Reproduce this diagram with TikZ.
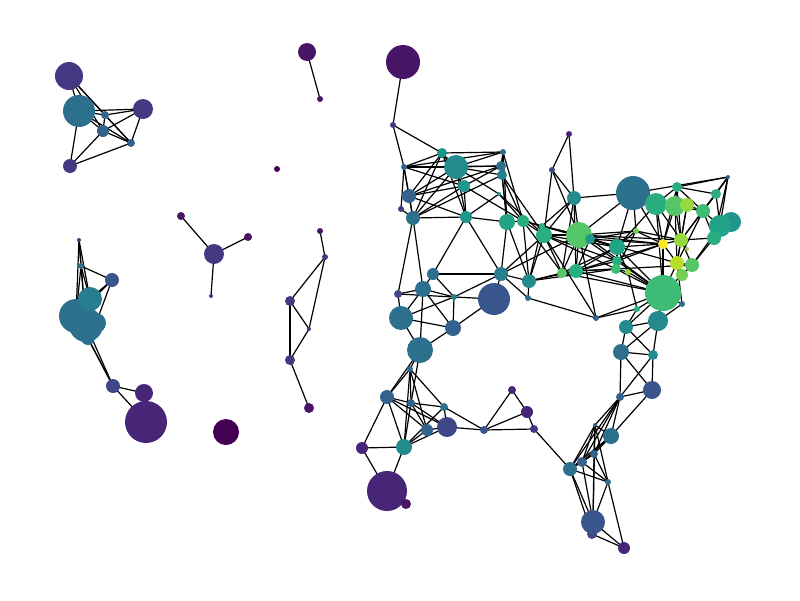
\documentclass[tikz,border=0pt]{standalone}
\usetikzlibrary{backgrounds}
\definecolor{va}{HTML}{440154}
\definecolor{vb}{HTML}{481567}
\definecolor{vc}{HTML}{482677}
\definecolor{vd}{HTML}{453781}
\definecolor{ve}{HTML}{3F4788}
\definecolor{vf}{HTML}{39568C}
\definecolor{vg}{HTML}{33638D}
\definecolor{vh}{HTML}{2D708E}
\definecolor{vi}{HTML}{287D8E}
\definecolor{vj}{HTML}{238A8D}
\definecolor{vk}{HTML}{1F968B}
\definecolor{vl}{HTML}{20A386}
\definecolor{vm}{HTML}{29AF7F}
\definecolor{vn}{HTML}{3CBC75}
\definecolor{vo}{HTML}{55C667}
\definecolor{vp}{HTML}{73D055}
\definecolor{vq}{HTML}{95D840}
\definecolor{vr}{HTML}{B8DE29}
\definecolor{vs}{HTML}{DCE319}
\definecolor{vt}{HTML}{FDE725}
\tikzset{
  nd/.style 2 args={circle, inner sep=0pt, outer sep=0pt, minimum size=2*#1 pt, fill=#2, draw=none},
  edge/.style={line width=1.2pt, black}
}
\newcommand{\E}[2]{\draw[edge] (#1.center) -- (#2.center);}
\begin{document}
\begin{tikzpicture}[x=1pt,y=-1pt]
\useasboundingbox (0,0) rectangle (800,600);
% component A
\node[nd={14}{vd}] (a1) at (69,76) {};
\node[nd={16}{vh}] (a2) at (79,111) {};
\node[nd={10}{vd}] (a3) at (143,109) {};
\node[nd={4}{vg}] (a4) at (105,115) {};
\node[nd={6}{vg}] (a5) at (103,131) {};
\node[nd={4}{vg}] (a6) at (131,143) {};
\node[nd={7}{vd}] (a7) at (70,166) {};
% component B
\node[nd={2}{vd}] (b1) at (79,240) {};
\node[nd={3}{vh}] (b2) at (81,266) {};
\node[nd={7}{vf}] (b3) at (112,280) {};
\node[nd={17}{vh}] (b5) at (76,316) {};
\node[nd={17}{vh}] (b6) at (86,325) {};
\node[nd={10}{vh}] (b7) at (96,323) {};
\node[nd={7}{vh}] (b8) at (88,338) {};
\node[nd={12}{vi}] (b4) at (90,299) {};
\node[nd={7}{ve}] (b9) at (113,386) {};
\node[nd={9}{vc}] (b10) at (144,393) {};
\node[nd={21}{vc}] (b11) at (146,422) {};
% component C
\node[nd={10}{vd}] (c1) at (214,254) {};
\node[nd={4}{vb}] (c2) at (181,216) {};
\node[nd={4}{vb}] (c3) at (248,237) {};
\node[nd={2}{vd}] (c4) at (211,296) {};
% D
\node[nd={9}{vb}] (d1) at (307,52) {};
\node[nd={3}{vb}] (d2) at (320,99) {};
\node[nd={3}{va}] (iso1) at (277,169) {};
\node[nd={13}{va}] (iso2) at (226,432) {};
% E
\node[nd={3}{vb}] (e1) at (320,231) {};
\node[nd={3}{vd}] (e2) at (325,257) {};
\node[nd={5}{vd}] (e3) at (290,301) {};
\node[nd={2}{vd}] (e4) at (309,329) {};
\node[nd={5}{vd}] (e5) at (290,360) {};
\node[nd={5}{vb}] (e6) at (309,408) {};
% main component
\node[nd={17}{vb}] (t1) at (403,62) {};
\node[nd={3}{vd}] (m1) at (393,125) {};
\node[nd={5}{vk}] (m2) at (442,153) {};
\node[nd={12}{vj}] (m3) at (456,167) {};
\node[nd={3}{vh}] (m4) at (503,152) {};
\node[nd={5}{vh}] (m5) at (501,166) {};
\node[nd={5}{vi}] (m6) at (502,175) {};
\node[nd={3}{vg}] (m7) at (404,167) {};
\node[nd={6}{vk}] (m8) at (464,186) {};
\node[nd={7}{vg}] (m9) at (409,196) {};
\node[nd={3}{vd}] (m10) at (401,209) {};
\node[nd={7}{vh}] (m11) at (413,218) {};
\node[nd={6}{vk}] (m12) at (466,217) {};
\node[nd={2}{vk}] (m13) at (499,194) {};
\node[nd={8}{vl}] (m14) at (507,222) {};
\node[nd={6}{vm}] (m15) at (523,221) {};
\node[nd={3}{vc}] (m16) at (569,134) {};
\node[nd={3}{ve}] (m17) at (552,170) {};
\node[nd={7}{vj}] (m18) at (574,198) {};
\node[nd={17}{vh}] (m19) at (633,193) {};
\node[nd={8}{vm}] (m20) at (544,235) {};
\node[nd={3}{vm}] (m21) at (542,226) {};
\node[nd={13}{vo}] (m22) at (579,235) {};
\node[nd={5}{vk}] (m23) at (590,239) {};
\node[nd={7}{vi}] (m24) at (501,274) {};
\node[nd={7}{vj}] (m25) at (529,281) {};
\node[nd={3}{vh}] (m26) at (528,298) {};
\node[nd={5}{vo}] (m27) at (562,273) {};
\node[nd={7}{vm}] (m28) at (576,271) {};
\node[nd={16}{vf}] (m29) at (494,299) {};
\node[nd={11}{vm}] (m31) at (656,204) {};
\node[nd={5}{vm}] (m32) at (677,187) {};
\node[nd={2}{vg}] (m33) at (728,177) {};
\node[nd={10}{vo}] (m34) at (675,206) {};
\node[nd={7}{vq}] (m35) at (687,205) {};
\node[nd={5}{vm}] (m36) at (716,194) {};
\node[nd={7}{vn}] (m37) at (703,211) {};
\node[nd={10}{vk}] (m39) at (731,222) {};
\node[nd={11}{vl}] (m38) at (720,226) {};
\node[nd={7}{vm}] (m40) at (714,238) {};
\node[nd={3}{vp}] (m41) at (636,231) {};
\node[nd={8}{vl}] (m42) at (617,247) {};
\node[nd={5}{vt}] (m43) at (663,244) {};
\node[nd={7}{vq}] (m44) at (681,240) {};
\node[nd={2}{vq}] (m45) at (687,249) {};
\node[nd={7}{vr}] (m46) at (677,263) {};
\node[nd={7}{vo}] (m47) at (692,265) {};
\node[nd={6}{vp}] (m48) at (682,275) {};
\node[nd={18}{vn}] (m49) at (663,293) {};
\node[nd={3}{vh}] (m50) at (682,304) {};
\node[nd={10}{vj}] (m51) at (658,321) {};
\node[nd={7}{vj}] (m52) at (626,327) {};
\node[nd={3}{vm}] (m53) at (637,309) {};
\node[nd={5}{vm}] (m57) at (617,261) {};
\node[nd={5}{vn}] (m54) at (616,269) {};
\node[nd={3}{vq}] (m55) at (628,272) {};
\node[nd={3}{vg}] (m56) at (596,318) {};
\node[nd={6}{vh}] (n1) at (433,274) {};
\node[nd={8}{vh}] (n2) at (423,289) {};
\node[nd={4}{ve}] (n3) at (398,294) {};
\node[nd={3}{vi}] (n4) at (454,297) {};
\node[nd={12}{vh}] (n5) at (401,318) {};
\node[nd={8}{vg}] (n6) at (453,328) {};
\node[nd={13}{vh}] (n7) at (420,350) {};
\node[nd={3}{vh}] (n8) at (410,369) {};
\node[nd={7}{vg}] (p2) at (387,397) {};
\node[nd={4}{vg}] (p3) at (411,403) {};
\node[nd={4}{vh}] (p4) at (444,407) {};
\node[nd={6}{vg}] (p5) at (427,430) {};
\node[nd={10}{ve}] (p6) at (447,427) {};
\node[nd={4}{vf}] (p7) at (484,430) {};
\node[nd={4}{vc}] (p8) at (512,390) {};
\node[nd={6}{vc}] (p9) at (527,412) {};
\node[nd={4}{vd}] (p10) at (534,429) {};
\node[nd={6}{vc}] (p11) at (362,448) {};
\node[nd={8}{vj}] (p12) at (404,447) {};
\node[nd={20}{vc}] (p13) at (387,491) {};
\node[nd={5}{vb}] (p14) at (406,504) {};
\node[nd={8}{vh}] (q1) at (621,352) {};
\node[nd={5}{vj}] (q2) at (653,355) {};
\node[nd={9}{vf}] (q3) at (652,390) {};
\node[nd={4}{vg}] (q4) at (620,397) {};
\node[nd={2}{vg}] (q5) at (595,425) {};
\node[nd={8}{vh}] (q6) at (611,436) {};
\node[nd={4}{vg}] (q7) at (594,454) {};
\node[nd={5}{vg}] (q8) at (582,462) {};
\node[nd={7}{vh}] (q9) at (570,469) {};
\node[nd={3}{vh}] (q10) at (608,482) {};
\node[nd={5}{ve}] (q12) at (592,534) {};
\node[nd={12}{vf}] (q11) at (593,522) {};
\node[nd={6}{vc}] (q13) at (624,548) {};
\begin{scope}[on background layer]
% A
\E{a1}{a2}\E{a1}{a4}\E{a1}{a5}\E{a1}{a6}\E{a2}{a3}\E{a2}{a4}\E{a2}{a5}\E{a2}{a6}\E{a2}{a7}
\E{a3}{a4}\E{a3}{a5}\E{a3}{a6}\E{a4}{a6}\E{a5}{a6}\E{a7}{a5}\E{a7}{a6}\E{a4}{a5}
% B
\E{b1}{b2}\E{b1}{b4}\E{b1}{b5}\E{b1}{b6}\E{b2}{b3}\E{b2}{b4}\E{b2}{b5}\E{b2}{b6}\E{b3}{b4}\E{b3}{b5}\E{b3}{b7}
\E{b5}{b9}\E{b6}{b9}\E{b8}{b9}\E{b9}{b10}\E{b9}{b11}
% C D E
\E{c1}{c2}\E{c1}{c3}\E{c1}{c4}\E{d1}{d2}
\E{e1}{e2}\E{e2}{e3}\E{e2}{e4}\E{e3}{e4}\E{e3}{e5}\E{e4}{e5}\E{e5}{e6}
% main, upper left
\E{t1}{m1}\E{m1}{m2}\E{m1}{m7}
\E{m2}{m3}\E{m2}{m4}\E{m2}{m7}\E{m2}{m8}\E{m2}{m11}\E{m2}{m12}\E{m2}{m9}
\E{m3}{m4}\E{m3}{m5}\E{m3}{m7}\E{m3}{m9}\E{m3}{m11}\E{m3}{m12}\E{m3}{m13}\E{m3}{m6}
\E{m4}{m5}\E{m4}{m6}\E{m4}{m7}\E{m4}{m14}\E{m4}{m15}
\E{m5}{m7}\E{m5}{m9}\E{m5}{m8}\E{m5}{m14}
\E{m6}{m11}\E{m6}{m14}\E{m6}{m15}\E{m6}{m20}
\E{m7}{m9}\E{m7}{m10}\E{m7}{m11}\E{m7}{m8}
\E{m8}{m11}\E{m8}{m12}\E{m8}{m15}\E{m8}{m9}
\E{m9}{m11}\E{m9}{m12}\E{m10}{m11}
\E{m11}{m12}\E{m11}{n2}\E{m11}{n3}\E{m12}{n1}
\E{m12}{m14}\E{m12}{m13}\E{m12}{m24}\E{m13}{m20}\E{m13}{m15}
\E{m14}{m15}\E{m14}{m24}\E{m14}{m25}
\E{m15}{m20}\E{m15}{m22}\E{m15}{m25}\E{m15}{m27}\E{m15}{m42}
% main, middle
\E{m16}{m17}\E{m16}{m18}\E{m17}{m20}\E{m17}{m18}\E{m17}{m22}
\E{m18}{m19}\E{m18}{m20}\E{m18}{m22}\E{m18}{m27}\E{m18}{m28}\E{m18}{m21}
\E{m19}{m22}\E{m19}{m33}\E{m19}{m41}\E{m19}{m42}\E{m19}{m43}\E{m19}{m34}
\E{m20}{m21}\E{m20}{m22}\E{m20}{m24}\E{m20}{m25}\E{m20}{m27}\E{m20}{m42}\E{m20}{m54}\E{m20}{m57}
\E{m21}{m22}\E{m21}{m25}
\E{m22}{m23}\E{m22}{m27}\E{m22}{m28}\E{m22}{m24}\E{m22}{m42}\E{m22}{m43}\E{m22}{m44}\E{m22}{m41}\E{m22}{m57}
\E{m23}{m28}\E{m23}{m42}\E{m23}{m43}\E{m23}{m49}\E{m23}{m46}\E{m23}{m41}
\E{m24}{m25}\E{m24}{m26}\E{m24}{m29}\E{m24}{n1}
\E{m25}{m26}\E{m25}{m27}\E{m25}{m28}\E{m25}{m54}\E{m27}{m28}\E{m27}{m42}\E{m27}{m49}
\E{m28}{m42}\E{m28}{m54}\E{m28}{m47}\E{m28}{m43}\E{m28}{m49}\E{m28}{m57}
% main, right
\E{m31}{m32}\E{m31}{m34}\E{m31}{m43}\E{m31}{m49}\E{m31}{m42}\E{m31}{m19}\E{m31}{m44}
\E{m32}{m33}\E{m32}{m34}\E{m32}{m36}\E{m32}{m43}\E{m32}{m44}\E{m32}{m37}
\E{m33}{m36}\E{m33}{m37}\E{m33}{m40}\E{m33}{m38}\E{m33}{m44}
\E{m34}{m35}\E{m34}{m43}\E{m34}{m44}\E{m34}{m46}\E{m34}{m37}
\E{m35}{m37}\E{m35}{m44}\E{m35}{m46}\E{m36}{m37}\E{m36}{m38}
\E{m37}{m38}\E{m37}{m40}\E{m37}{m44}\E{m37}{m46}
\E{m38}{m39}\E{m38}{m40}\E{m38}{m47}\E{m40}{m44}\E{m40}{m47}
\E{m41}{m42}\E{m41}{m43}\E{m41}{m54}\E{m41}{m44}
\E{m42}{m54}\E{m42}{m55}\E{m42}{m49}\E{m42}{m43}\E{m42}{m57}
\E{m43}{m44}\E{m43}{m46}\E{m43}{m49}\E{m43}{m57}\E{m44}{m45}\E{m44}{m46}\E{m44}{m47}
\E{m46}{m47}\E{m46}{m48}\E{m46}{m49}\E{m47}{m48}
\E{m48}{m49}\E{m49}{m50}\E{m49}{m51}\E{m49}{m52}\E{m49}{m53}\E{m49}{m54}\E{m49}{m55}\E{m49}{m57}
\E{m50}{m46}\E{m50}{m51}\E{m51}{m52}\E{m52}{m53}\E{m53}{m55}\E{m54}{m55}
\E{m56}{m26}\E{m56}{m53}\E{m56}{m22}\E{m56}{m20}\E{m56}{m49}
% lower left
\E{n1}{n2}\E{n1}{n4}\E{n2}{n3}\E{n2}{n4}\E{n2}{n5}\E{n2}{n6}\E{n2}{n7}
\E{n3}{n4}\E{n3}{n5}\E{n4}{n5}\E{n4}{n6}\E{n4}{m29}\E{n4}{m24}
\E{n5}{n6}\E{n5}{n7}\E{n6}{n7}\E{n6}{m29}
\E{n7}{n8}\E{n7}{p2}\E{n7}{p3}
\E{n8}{p2}\E{n8}{p3}\E{n8}{p5}\E{n8}{p12}\E{n8}{p4}
\E{p2}{p3}\E{p2}{p5}\E{p2}{p11}\E{p2}{p12}\E{p2}{p6}
\E{p3}{p4}\E{p3}{p5}\E{p3}{p12}\E{p3}{p6}
\E{p4}{p6}\E{p4}{p7}\E{p4}{p12}\E{p5}{p12}\E{p6}{p12}\E{p6}{p7}\E{p5}{p6}
\E{p7}{p8}\E{p7}{p9}\E{p7}{p10}\E{p8}{p9}\E{p9}{p10}\E{p10}{q9}
\E{p11}{p12}\E{p11}{p13}\E{p12}{p13}\E{p13}{p14}
% lower right
\E{q1}{q2}\E{q1}{q3}\E{q1}{q4}\E{q1}{m52}\E{q1}{m51}\E{q2}{q3}\E{q2}{q4}\E{q2}{m52}\E{q2}{m51}
\E{q3}{q4}\E{q3}{q6}
\E{q4}{q5}\E{q4}{q6}\E{q4}{q7}\E{q4}{q8}\E{q4}{q9}
\E{q5}{q6}\E{q5}{q7}\E{q5}{q8}\E{q5}{q9}\E{q5}{q10}\E{q5}{q11}
\E{q6}{q7}\E{q6}{q8}\E{q6}{q9}
\E{q7}{q8}\E{q7}{q9}\E{q7}{q10}\E{q7}{q11}
\E{q8}{q9}\E{q8}{q11}\E{q8}{q10}
\E{q9}{q10}\E{q9}{q11}\E{q9}{q12}
\E{q10}{q11}\E{q10}{q13}\E{q11}{q12}\E{q11}{q13}\E{q12}{q13}
\end{scope}
\end{tikzpicture}
\end{document}
